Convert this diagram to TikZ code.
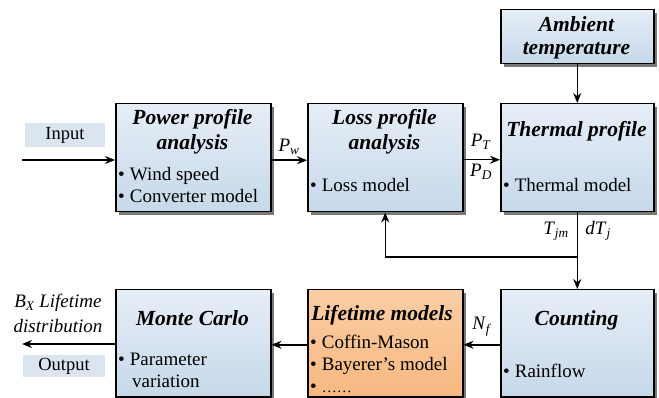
\documentclass[tikz,border=0pt]{standalone}
\usepackage{fontspec}
\setmainfont{LiberationSerif}[Extension=.ttf, UprightFont=*-Regular, BoldFont=*-Bold, ItalicFont=*-Italic, BoldItalicFont=*-BoldItalic]
\usetikzlibrary{arrows.meta,shadows}
\definecolor{bluetop}{RGB}{230,238,247}
\definecolor{bluebot}{RGB}{198,216,233}
\definecolor{orgtop}{RGB}{251,206,164}
\definecolor{orgbot}{RGB}{246,184,128}
\definecolor{ioback}{RGB}{219,229,240}
\newcommand\tsub[2]{\textit{#1}\textsubscript{\textit{#2}}}
\begin{document}
\begin{tikzpicture}[x=1pt,y=-1pt,
  blk/.style={draw=black, line width=1.5pt, rectangle, anchor=north west, inner sep=0pt,
    top color=bluetop, bottom color=bluebot,
    drop shadow={shadow xshift=3pt, shadow yshift=-3pt, fill=black!70, opacity=0.75}},
  oblk/.style={blk, top color=orgtop, bottom color=orgbot},
  ttl/.style={anchor=base, inner sep=0pt, font=\fontsize{21.5}{24}\selectfont\bfseries\itshape},
  itm/.style={anchor=base west, inner sep=0pt, font=\fontsize{19}{22}\selectfont},
  lbl/.style={anchor=base, inner sep=0pt, font=\fontsize{19}{22}\selectfont},
  iobox/.style={fill=ioback, inner sep=0pt, font=\fontsize{18.5}{22}\selectfont},
  arr/.style={line width=1.5pt, -{Stealth[length=10pt,width=8pt]}},
  ln/.style={line width=1.5pt}]
\useasboundingbox (0,0) rectangle (659,398);

% boxes
\node[blk, minimum width=155pt, minimum height=108pt] (power) at (115,103) {};
\node[blk, minimum width=155pt, minimum height=108pt] (loss) at (307,103) {};
\node[blk, minimum width=153pt, minimum height=108pt] (thermal) at (500,103) {};
\node[blk, minimum width=153pt, minimum height=54pt] (ambient) at (500,9) {};
\node[blk, minimum width=155pt, minimum height=107pt] (monte) at (115,289) {};
\node[oblk, minimum width=155pt, minimum height=107pt] (life) at (307,289) {};
\node[blk, minimum width=153pt, minimum height=107pt] (count) at (500,289) {};

% texts in boxes
\node[ttl] (t1a) at (192.5,125) {Power profile};
\node[ttl] (t1b) at (192.5,150) {analysis};
\node[itm] (i1a) at (118,181) {\textbullet\hspace{5pt}Wind speed};
\node[itm] (i1b) at (118,203) {\textbullet\hspace{5pt}Converter model};

\node[ttl] (t2a) at (384.5,125) {Loss profile};
\node[ttl] (t2b) at (384.5,150) {analysis};
\node[itm] (i2a) at (310,192) {\textbullet\hspace{5pt}Loss model};

\node[ttl] (t3a) at (576.5,137) {Thermal profile};
\node[itm] (i3a) at (503,192) {\textbullet\hspace{5pt}Thermal model};

\node[ttl] (t4a) at (576.5,32) {Ambient};
\node[ttl] (t4b) at (576.5,55) {temperature};

\node[ttl] (t5a) at (192.5,325) {Monte Carlo};
\node[itm] (i5a) at (118,365) {\textbullet\hspace{5pt}Parameter};
\node[itm] (i5b) at (132,387) {variation};

\node[ttl] (t6a) at (382,320) {Lifetime models};
\node[itm] (i6a) at (310,348) {\textbullet\hspace{5pt}Coffin-Mason};
\node[itm] (i6b) at (310,370) {\textbullet\hspace{5pt}Bayerer’s model};
\node[itm] (i6c) at (310,392) {\textbullet\hspace{5pt}{\fontsize{15}{16}\selectfont ……}};

\node[ttl] (t7a) at (576.5,325) {Counting};
\node[itm] (i7a) at (503,377) {\textbullet\hspace{5pt}Rainflow};

% input / output
\node[iobox, minimum width=80pt, minimum height=24pt] (inp) at (65,135) {Input};
\node[iobox, minimum width=82pt, minimum height=22pt] (outp) at (64,366) {Output};
\node[lbl, font=\fontsize{19}{22}\selectfont\itshape] (bx1) at (58,308) {B\textsubscript{X} Lifetime};
\node[lbl, font=\fontsize{19}{22}\selectfont\itshape] (bx2) at (58,332) {distribution};

% connector labels
\node[lbl] (lPw) at (289,152) {\tsub{P}{w}};
\node[lbl] (lPT) at (481,147) {\tsub{P}{T}};
\node[lbl] (lPD) at (481,177) {\tsub{P}{D}};
\node[lbl] (lTjm) at (556,235) {\tsub{T}{jm}};
\node[lbl] (ldTj) at (598,235) {\textit{dT}\textsubscript{\textit{j}}};
\node[lbl] (lNf) at (482,330) {\tsub{N}{f}};

% connectors
\coordinate (inS) at (22,160);
\coordinate (outE) at (22,344);
\coordinate (jn) at (576.5,257);
\draw[arr] (inS) -- (inS -| power.west);
\draw[arr] ([yshift=-2.5pt]power.east) -- ([yshift=-2.5pt]loss.west);
\draw[arr] ([yshift=-2pt]loss.east) -- ([yshift=-2pt]thermal.west);
\draw[arr] (ambient.south) -- (thermal.north);
\draw[arr] (thermal.south) -- (count.north);
\draw[arr] (jn) -- (jn -| loss.south) -- (loss.south);
\draw[arr] ([yshift=-1.5pt]count.west) -- ([yshift=-1.5pt]life.east);
\draw[arr] ([yshift=-1.5pt]life.west) -- ([yshift=-1.5pt]monte.east);
\draw[arr] (outE -| monte.west) -- (outE);
\end{tikzpicture}
\end{document}
